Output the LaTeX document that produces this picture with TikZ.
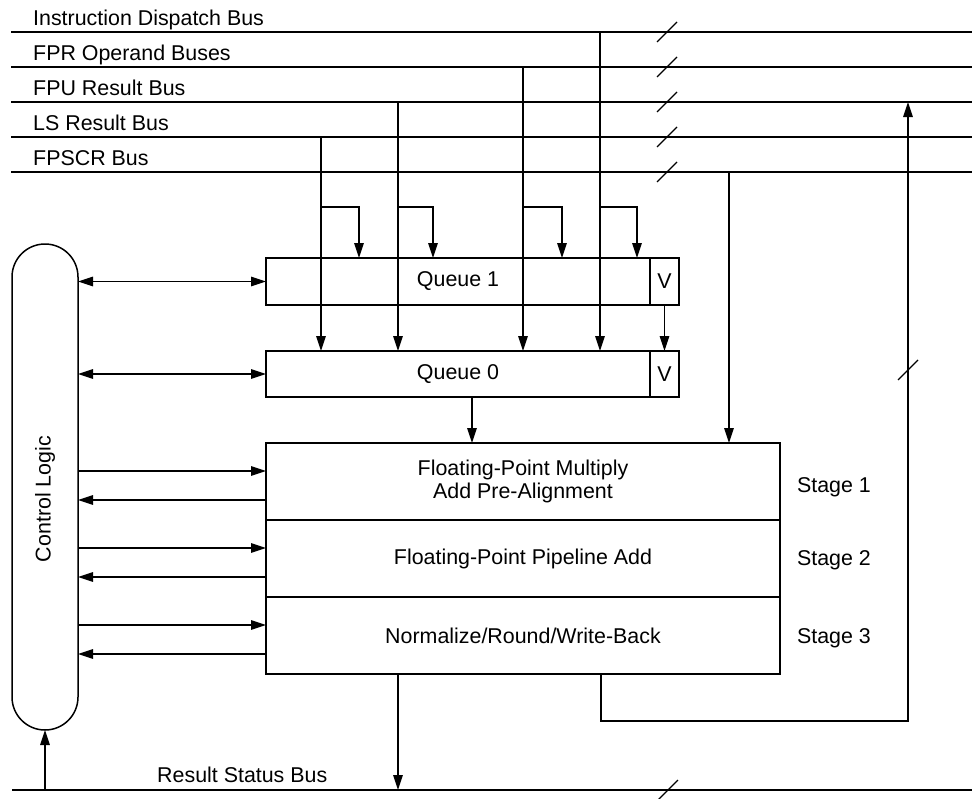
\documentclass[tikz,border=0pt]{standalone}
\usepackage{fontspec}
\setmainfont{Liberation Sans}
\usetikzlibrary{arrows.meta}
\begin{document}
\begin{tikzpicture}[x=1pt,y=-1pt,
  every node/.style={font=\fontsize{21.4}{23.5}\selectfont},
  ln/.style={line width=1.5pt},
  arr/.style={ln,-{Triangle[length=15pt,width=9.5pt]}},
  darr/.style={ln,{Triangle[length=15pt,width=9.5pt]}-{Triangle[length=15pt,width=9.5pt]}},
  box/.style={draw,line width=1.5pt,rectangle,inner sep=0pt,outer sep=0pt},
  buslabel/.style={anchor=base west,inner sep=0pt},
  slash/.style={line width=1.3pt}
]
\useasboundingbox (0,0) rectangle (972,798);

% ---- buses ----
\foreach \n/\y in {1/32,2/67,3/102,4/137,5/172}{
  \coordinate (b\n w) at (11,\y);
  \coordinate (b\n e) at (972,\y);
  \coordinate (b\n s) at (667,\y);
  \draw[ln] (b\n w) -- (b\n e);
  \draw[slash] ([shift={(-10pt,-10pt)}]b\n s) -- ([shift={(10pt,10pt)}]b\n s);
}
\node[buslabel] (l1) at (33,25) {Instruction Dispatch Bus};
\node[buslabel] (l2) at (33,60) {FPR Operand Buses};
\node[buslabel] (l3) at (33,95) {FPU Result Bus};
\node[buslabel] (l4) at (33,130) {LS Result Bus};
\node[buslabel] (l5) at (33,165) {FPSCR Bus};

\coordinate (rbw) at (12,790);
\coordinate (rbe) at (972,790);
\coordinate (rbs) at (668,790);
\draw[ln] (rbw) -- (rbe);
\draw[slash] ([shift={(-10pt,-10pt)}]rbs) -- ([shift={(10pt,10pt)}]rbs);
\node[buslabel] (lr) at (157,782) {Result Status Bus};

% ---- control logic ----
\node[box,rounded corners=33pt,minimum width=66pt,minimum height=486pt] (ctl) at (45,487) {};
\node[rotate=90] (ctltext) at (45,499) {Control Logic};

% ---- queues ----
\node[box,minimum width=384pt,minimum height=47pt] (q1) at (458,281.5) {\raisebox{-2pt}{Queue 1}};
\node[box,minimum width=29pt,minimum height=47pt] (v1) at (664.5,281.5) {\raisebox{-2pt}{V}};
\node[box,minimum width=384pt,minimum height=46pt] (q0) at (458,374) {\raisebox{-2pt}{Queue 0}};
\node[box,minimum width=29pt,minimum height=46pt] (v0) at (664.5,374) {\raisebox{-2pt}{V}};

% ---- pipeline stages ----
\node[box,minimum width=514pt,minimum height=77pt,align=center] (s1) at (523,481.5) {Floating-Point Multiply\\Add Pre-Alignment};
\node[box,minimum width=514pt,minimum height=77pt] (s2) at (523,558.5) {Floating-Point Pipeline Add};
\node[box,minimum width=514pt,minimum height=77pt] (s3) at (523,635.5) {Normalize/Round/Write-Back};
\node (st1) at (834,487) {Stage 1};
\node (st2) at (834,560) {Stage 2};
\node (st3) at (834,638) {Stage 3};

% ---- control arrows ----
\draw[darr] (ctl.east |- q1.west) -- (q1.west);
\draw[darr] (ctl.east |- q0.west) -- (q0.west);
\foreach \s in {s1,s2,s3}{
  \coordinate (\s in) at ([yshift=10.5pt]\s.west);
  \coordinate (\s out) at ([yshift=-18.5pt]\s.west);
  \draw[arr] (ctl.east |- \s in) -- (\s in);
  \draw[arr] (\s out) -- (ctl.east |- \s out);
}

% ---- bus taps into the queues ----
\foreach \b/\x/\bx in {4/321/359, 3/398/433, 2/523/562, 1/600/637}{
  \coordinate (t\b) at (\x,0 |- b\b w);
  \coordinate (k\b) at (\x,207);
  \draw[arr] (t\b) -- (t\b |- q0.north);
  \draw[arr] (k\b) -| (\bx,0 |- q1.north);
}
\draw[arr] (v1.south) -- (v0.north);
\coordinate (qo) at (472,0 |- q0.south);
\draw[arr] (qo) -- (qo |- s1.north);

% ---- FPSCR into stage 1 ----
\coordinate (t5) at (729,0 |- b5w);
\draw[arr] (t5) -- (t5 |- s1.north);

% ---- write-back to FPU result bus ----
\coordinate (wb) at (601,0 |- s3.south);
\coordinate (wc) at (908,721);
\draw[arr] (wb) |- (wc) -- (wc |- b3w);
\coordinate (ws) at (908,370);
\draw[slash] ([shift={(-10pt,-10pt)}]ws) -- ([shift={(10pt,10pt)}]ws);

% ---- result status bus ----
\coordinate (ro) at (398,0 |- s3.south);
\draw[arr] (ro) -- (ro |- rbw);
\coordinate (ri) at (45,0 |- rbw);
\draw[arr] (ri) -- (ctl.south);
\end{tikzpicture}
\end{document}
